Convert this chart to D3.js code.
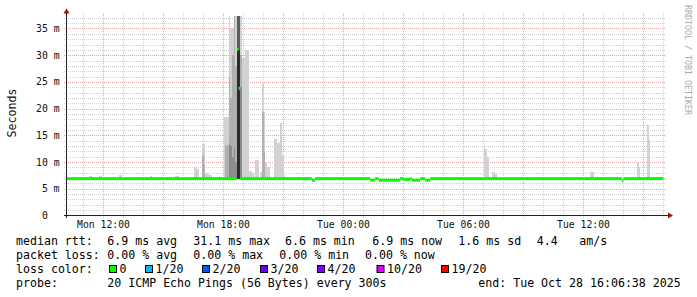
<!DOCTYPE html>
<html><head><meta charset="utf-8">
<script src="https://cdn.jsdelivr.net/npm/d3@7"></script>
<style>
html,body{margin:0;padding:0;background:#fff;}
svg{display:block;}
text{font-family:"DejaVu Sans Mono",monospace;white-space:pre;}
</style></head><body>
<svg id="c" width="697" height="297"></svg>
<script>
// ---------------- data ----------------
const timeStart = "27 10:09", timeEnd = "28 16:09";
const yMaxMs = 37.43;
const xTickTimes  = ["27 12:00","27 18:00","28 00:00","28 06:00","28 12:00"];
const xTickLabels = ["Mon 12:00","Mon 18:00","Tue 00:00","Tue 06:00","Tue 12:00"];
const yTickValues = [0,5,10,15,20,25,30,35];
const yTickLabels = ["0  ","5 m","10 m","15 m","20 m","25 m","30 m","35 m"];

// median rtt segments: [from, to, ms]
const medianSegments = [
  ["27 10:09","27 18:40",6.9],
  ["27 18:40","27 18:45",31.1],
  ["27 18:45","27 18:50",23.8],
  ["27 18:50","27 22:25",6.9],
  ["27 22:25","27 22:35",6.6],
  ["27 22:35","28 01:20",6.9],
  ["28 01:20","28 01:35",6.6],
  ["28 01:35","28 01:45",6.9],
  ["28 01:45","28 02:50",6.6],
  ["28 02:50","28 03:00",6.9],
  ["28 03:00","28 03:20",6.75],
  ["28 03:20","28 03:25",6.9],
  ["28 03:25","28 03:50",6.6],
  ["28 03:50","28 04:05",6.9],
  ["28 04:05","28 04:20",6.6],
  ["28 04:20","28 13:55",6.9],
  ["28 13:55","28 14:00",6.5],
  ["28 14:00","28 16:00",6.9]
];

// smoke columns (5-minute steps): start time and top of each shade (ms, 0 = none)
const smokeTimes = ["27 11:15","27 11:20","27 11:45","27 11:50","27 12:45","27 12:50","27 14:20","27 15:35","27 15:40",
  "27 16:30","27 16:35","27 16:40","27 16:55","27 17:00","27 17:05","27 17:10","27 17:15","27 17:20","27 17:45",
  "27 18:00","27 18:05","27 18:10","27 18:15","27 18:20","27 18:25","27 18:30","27 18:35","27 18:40","27 18:45","27 18:50",
  "27 18:55","27 19:00","27 19:05","27 19:10","27 19:15","27 19:20","27 19:25","27 19:35","27 19:40","27 19:50",
  "27 19:55","27 20:00","27 20:05","27 20:10","27 20:15","27 20:30","27 20:35","27 20:40","27 20:45","27 20:50","27 20:55","27 21:00",
  "28 07:00","28 07:05","28 07:10","28 07:25","28 07:30","28 07:35","28 12:20","28 12:25","28 14:40","28 14:45","28 15:10","28 15:15"];
const smokeLight = [7.3,7.3,7.3,7.3,7.5,7.5,7.3,7.3,7.3,
  9.0,9.0,8.7,13.4,13.4,7.9,7.9,7.6,7.6,7.4,
  18.4,18.4,18.4,40,35,35,40,40,40,40,40,
  29.5,29.5,31,31,8.4,8.4,8.0,10.4,10.4,8.1,
  24.7,19.4,10,9.0,9.0,14.4,14.4,13.5,13.5,17.3,11.3,7.6,
  13.2,12.5,11.0,8.2,8.2,7.8,8.1,8.1,10.0,9.0,16.9,14.1];
const smokeMid = [0,0,0,0,0,0,0,0,0,
  0,0,0,11.3,9.5,0,0,0,0,0,
  0,13.2,13.2,26,22,30,40,28,40,40,30,
  0,0,0,0,0,0,0,0,0,0,
  19.4,12,0,0,0,0,0,0,0,0,0,0,
  0,0,0,0,0,0,0,0,0,0,0,0];
const smokeDark = [0,0,0,0,0,0,0,0,0,
  0,0,0,0,0,0,0,0,0,0,
  0,0,0,13.5,13,11,12.6,10,40,40,24,
  0,0,0,0,0,0,0,0,0,0,
  0,0,0,0,0,0,0,0,0,0,0,0,
  0,0,0,0,0,0,0,0,0,0,0,0];
const smokeDarker = [0,0,0,0,0,0,0,0,0,
  0,0,0,0,0,0,0,0,0,0,
  0,0,0,0,0,0,0,0,40,40,0,
  0,0,0,0,0,0,0,0,0,0,
  0,0,0,0,0,0,0,0,0,0,0,0,
  0,0,0,0,0,0,0,0,0,0,0,0];
const smokeBlack = [0,0,0,0,0,0,0,0,0,
  0,0,0,0,0,0,0,0,0,0,
  0,0,0,0,0,0,0,0,31,31,0,
  0,0,0,0,0,0,0,0,0,0,
  0,0,0,0,0,0,0,0,0,0,0,0,
  0,0,0,0,0,0,0,0,0,0,0,0];

// legend
const legendRows = [
  [[16,"median rtt:"],[107.3,"6.9 ms avg"],[193.3,"31.1 ms max"],[285,"6.6 ms min"],[372.3,"6.9 ms now"],[458.3,"1.6 ms sd"],[536.7,"4.4"],[579.3,"am/s"]],
  [[16,"packet loss:"],[107.3,"0.00 % avg"],[193.3,"0.00 % max"],[279.3,"0.00 % min"],[365,"0.00 % now"]],
  [[16,"loss color:"]],
  [[16,"probe:"],[107.3,"20 ICMP Echo Pings (56 Bytes) every 300s"],[478.3,"end: Tue Oct 28 16:06:38 2025"]]
];
const lossLabels = ["0","1/20","2/20","3/20","4/20","10/20","19/20"];
const lossColors = ["#00ff00","#00b8ff","#0059ff","#5e00ff","#7e00ff","#dd00ff","#ff0000"];
const lossBoxX = [109.5,145.5,202.5,260.5,317.5,377,441.5];

// ---------------- drawing ----------------
const parse = d3.utcParse("%d %H:%M");
const svg = d3.select("#c");
const x = d3.scaleUtc().domain([parse(timeStart), parse(timeEnd)]).range([66.5, 666.5]);
const y = d3.scaleLinear().domain([0, yMaxMs]).range([215.5, 15.5]);
const step = 5*60*1000;

const minorCol = "#d4d4d4", majorCol = "#e3a6a6";

// grid
const g = svg.append("g");
const hMinor = d3.range(1, 38).filter(v => v % 5 !== 0 && v <= yMaxMs);
g.selectAll(".hm").data(hMinor).join("line")
  .attr("x1",64).attr("x2",666).attr("y1",d=>Math.round(y(d))+0.5).attr("y2",d=>Math.round(y(d))+0.5)
  .attr("stroke",minorCol).attr("stroke-dasharray","1,1");
g.selectAll(".hM").data(yTickValues.filter(v=>v>0)).join("line")
  .attr("x1",64).attr("x2",666).attr("y1",d=>Math.round(y(d))+0.5).attr("y2",d=>Math.round(y(d))+0.5)
  .attr("stroke",majorCol).attr("stroke-dasharray","1,1");
const hours = x.ticks(d3.utcHour.every(1));
g.selectAll(".vm").data(hours).join("line")
  .attr("x1",d=>Math.floor(x(d))+0.5).attr("x2",d=>Math.floor(x(d))+0.5)
  .attr("y1",13).attr("y2",218)
  .attr("stroke",d=>d.getUTCHours()%3===0?majorCol:minorCol).attr("stroke-dasharray","1,1");

// smoke
const sm = svg.append("g").attr("shape-rendering","crispEdges");
const base = y(6.8);
function col(arr, color){
  sm.selectAll(null).data(smokeTimes.map((t,i)=>({t:parse(t), v:arr[i]})).filter(d=>d.v>0)).join("rect")
    .attr("x",d=>x(d.t)).attr("width",d=>x(new Date(+d.t+step))-x(d.t))
    .attr("y",d=>y(Math.min(d.v,yMaxMs))).attr("height",d=>base-y(Math.min(d.v,yMaxMs)))
    .attr("fill",color);
}
col(smokeLight,"#d2d2d2");
col(smokeMid,"#b0b0b0");
col(smokeDark,"#8c8c8c");
col(smokeDarker,"#5c5c5c");
col(smokeBlack,"#2c2c2c");

// median
svg.append("g").selectAll("rect").data(medianSegments).join("rect")
  .attr("x",d=>x(parse(d[0]))).attr("width",d=>x(parse(d[1]))-x(parse(d[0])))
  .attr("y",d=>y(d[2])-1.5).attr("height",3).attr("fill","#00ff00");

// axes
const axCol = "#202020", arrowCol = "#9a1010";
svg.append("line").attr("x1",66.5).attr("x2",66.5).attr("y1",13).attr("y2",218).attr("stroke",axCol);
svg.append("line").attr("x1",64).attr("x2",668).attr("y1",215.5).attr("y2",215.5).attr("stroke",axCol);
svg.append("path").attr("d","M63.5,13.5L66.5,8.5L69.5,13.5Z").attr("fill",arrowCol);
svg.append("path").attr("d","M668,212.5L673,215.5L668,218.5Z").attr("fill",arrowCol);

// tick labels
svg.append("g").selectAll("text").data(yTickValues).join("text")
  .attr("x",59.5).attr("y",d=>y(d)+3.5).attr("text-anchor","end")
  .attr("font-size","9.75px").attr("fill","#111").attr("xml:space","preserve")
  .text((d,i)=>yTickLabels[i]);
svg.append("g").selectAll("text").data(xTickTimes).join("text")
  .attr("x",d=>x(parse(d))).attr("y",228).attr("text-anchor","middle")
  .attr("font-size","9.75px").attr("fill","#111")
  .text((d,i)=>xTickLabels[i]);

// axis title
svg.append("text").attr("transform","translate(15.5,113) rotate(-90)")
  .attr("text-anchor","middle").attr("font-size","11.6px").attr("fill","#111").text("Seconds");
svg.append("text").attr("transform","translate(685,5) rotate(90)")
  .attr("font-size","8.3px").attr("fill","#aaaaaa").text("RRDTOOL / TOBI OETIKER");

// legend
const baselines = [245,259,273,287];
legendRows.forEach((row,ri)=>{
  svg.append("g").selectAll("text").data(row).join("text")
    .attr("x",d=>d[0]).attr("y",baselines[ri]).attr("font-size","11.6px").attr("fill","#000")
    .attr("xml:space","preserve").text(d=>d[1]);
});
const lg = svg.append("g");
lg.selectAll("rect").data(lossColors).join("rect")
  .attr("x",(d,i)=>lossBoxX[i]).attr("y",265.5).attr("width",7).attr("height",7)
  .attr("fill",d=>d).attr("stroke","#000");
lg.selectAll("text").data(lossLabels).join("text")
  .attr("x",(d,i)=>lossBoxX[i]+10).attr("y",273).attr("font-size","11.6px").attr("fill","#000").text(d=>d);
</script>
</body></html>
